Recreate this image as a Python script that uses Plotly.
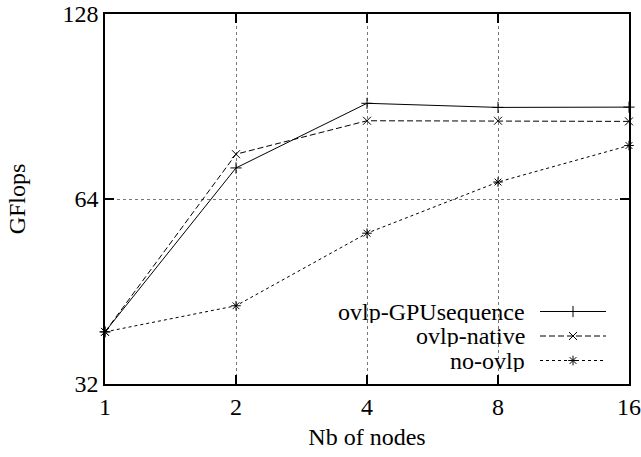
import plotly.graph_objects as go

nodes = [1, 2, 4, 8, 16]
gpu_sequence = [38.9, 71.9, 91.6, 90.2, 90.3]
native = [38.9, 75.7, 85.8, 85.8, 85.6]
no_ovlp = [38.9, 42.9, 56.3, 68.2, 78.2]

series_names = ["ovlp-GPUsequence", "ovlp-native", "no-ovlp"]
x_ticks = [1, 2, 4, 8, 16]
y_ticks = [32, 64, 128]

FONT = "'Liberation Serif', 'Times New Roman', Times, serif"
FS = 24
styles = [
    dict(dash="solid", symbol="cross-thin-open"),
    dict(dash="6px,3px", symbol="x-thin-open"),
    dict(dash="3px,3px", symbol="asterisk-open"),
]

fig = go.Figure()
for name, ys, st in zip(series_names, [gpu_sequence, native, no_ovlp], styles):
    fig.add_trace(go.Scatter(
        x=nodes, y=ys, name=name, mode="lines+markers",
        line=dict(color="black", width=1, dash=st["dash"]),
        marker=dict(symbol=st["symbol"], size=8, color="black",
                    line=dict(color="black", width=1)),
        showlegend=False, cliponaxis=False,
    ))

# custom legend (text on the left, sample on the right) in an overlay axis
# plot area: x 105..629 (524 px), y 14..384 (370 px)
leg_y = [(384 - 311.5) / 370, (384 - 336) / 370, (384 - 360.5) / 370]
lx0, lx1, lm = (540 - 105) / 524, (606 - 105) / 524, (573 - 105) / 524
ltext = (526 - 105) / 524
for name, st, yy in zip(series_names, styles, leg_y):
    fig.add_trace(go.Scatter(
        x=[lx0, lx1], y=[yy, yy],
        mode="lines", line=dict(color="black", width=1, dash=st["dash"]),
        xaxis="x2", yaxis="y2", showlegend=False, hoverinfo="skip",
    ))
    fig.add_trace(go.Scatter(
        x=[lm], y=[yy], mode="markers",
        marker=dict(symbol=st["symbol"], size=8, color="black",
                    line=dict(color="black", width=1)),
        xaxis="x2", yaxis="y2", showlegend=False, hoverinfo="skip",
    ))
    fig.add_annotation(x=ltext, y=yy, xref="x2", yref="y2", text=name,
                       showarrow=False, xanchor="right", yanchor="middle",
                       height=22, borderpad=0,
                       font=dict(family=FONT, size=FS, color="black"))

axis_common = dict(
    showline=True, linecolor="black", linewidth=1.5, mirror="ticks",
    ticks="inside", ticklen=9, tickwidth=1.5, tickcolor="black",
    showgrid=True, gridcolor="#777777", gridwidth=1, griddash="dot",
    zeroline=False, automargin=False,
    tickfont=dict(family=FONT, size=FS, color="black"),
    title_font=dict(family=FONT, size=FS, color="black"),
)

fig.update_layout(
    width=641, height=457,
    margin=dict(l=105, r=12, t=14, b=73),
    paper_bgcolor="white", plot_bgcolor="white",
    font=dict(family=FONT, size=FS, color="black"),
    xaxis=dict(type="log", range=[0, 1.20412], tickvals=x_ticks,
               ticktext=[str(v) for v in x_ticks],
               title=dict(text="Nb of nodes", standoff=10), **axis_common),
    yaxis=dict(type="log", range=[1.50515, 2.10721], tickvals=y_ticks,
               ticktext=[str(v) for v in y_ticks],
               title=dict(text="GFlops", standoff=30), **axis_common),
    xaxis2=dict(overlaying="x", range=[0, 1], visible=False, fixedrange=True),
    yaxis2=dict(overlaying="y", range=[0, 1], visible=False, fixedrange=True),
)

fig.write_html("out.html")
